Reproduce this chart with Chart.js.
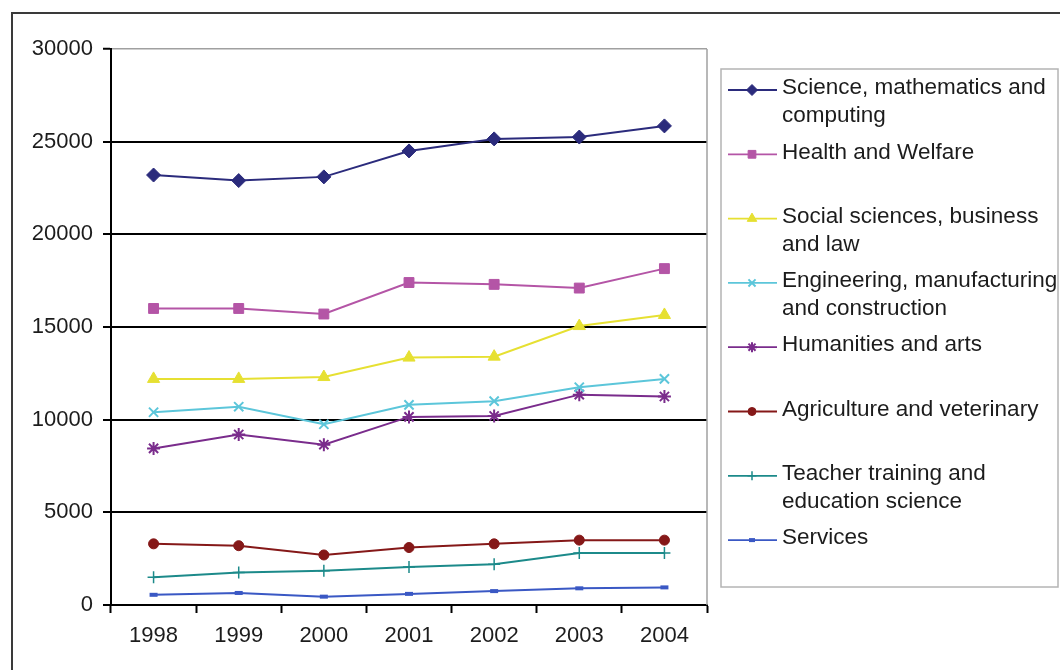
<!DOCTYPE html>
<html>
<head>
<meta charset="utf-8">
<script src="https://cdn.jsdelivr.net/npm/chart.js@4/dist/chart.umd.min.js"></script>
<style>
  html, body { margin: 0; padding: 0; background: #fff; }
  #wrap { width: 1060px; height: 670px; position: relative; }
</style>
</head>
<body>
<div id="wrap"><canvas id="c" width="1060" height="670"></canvas></div>
<script>
// Graduates by field of study, 1998-2004
const years = ['1998', '1999', '2000', '2001', '2002', '2003', '2004'];

const science     = [23200, 22900, 23100, 24500, 25150, 25250, 25850];
const health      = [16000, 16000, 15700, 17400, 17300, 17100, 18150];
const social      = [12200, 12200, 12300, 13350, 13400, 15050, 15650];
const engineering = [10400, 10700, 9750, 10800, 11000, 11750, 12200];
const humanities  = [8450, 9200, 8650, 10150, 10200, 11350, 11250];
const agriculture = [3300, 3200, 2700, 3100, 3300, 3500, 3500];
const teacher     = [1500, 1750, 1850, 2050, 2200, 2800, 2800];
const services    = [550, 650, 450, 600, 750, 900, 950];

const legendLines = [
  ['Science, mathematics and', 'computing'],
  ['Health and Welfare'],
  ['Social sciences, business', 'and law'],
  ['Engineering, manufacturing', 'and construction'],
  ['Humanities and arts'],
  ['Agriculture and veterinary'],
  ['Teacher training and', 'education science'],
  ['Services']
];

const yTicks = { min: 0, max: 30000, step: 5000 };

const FONT = { family: '"Liberation Sans", Arial, sans-serif', size: 22 };
const LEGEND_SIZE = 22.5;
const TEXT = '#1c1c1c';

function series(data, lines, color, style, radius, extra) {
  return Object.assign({
    label: lines.join(' '),
    legendLines: lines,
    data: data,
    borderColor: color,
    backgroundColor: color,
    pointBackgroundColor: color,
    pointBorderColor: color,
    pointStyle: style,
    pointRadius: radius,
    pointHoverRadius: radius,
    pointBorderWidth: 1,
    borderWidth: 2,
    tension: 0,
    fill: false
  }, extra || {});
}

const datasets = [
  series(science,     legendLines[0], '#2b2b7c', 'rectRot',  7),
  series(health,      legendLines[1], '#b455a6', 'rect',     7),
  series(social,      legendLines[2], '#e6e032', 'triangle', 7),
  series(engineering, legendLines[3], '#5cc6da', 'crossRot', 6.5, { pointBorderWidth: 2 }),
  series(humanities,  legendLines[4], '#7a2c8c', 'star',     6.5, { pointBorderWidth: 2 }),
  series(agriculture, legendLines[5], '#851818', 'circle',   5),
  series(teacher,     legendLines[6], '#1c8a8a', 'cross',    6, { pointBorderWidth: 1.5 }),
  series(services,    legendLines[7], '#3a58c4', 'line',     4, { pointBorderWidth: 4 })
];

// outer frame, plot border on the right, and the boxed legend
const decorations = {
  id: 'decorations',
  beforeDraw(chart) {
    const ctx = chart.ctx;
    ctx.save();
    ctx.fillStyle = '#fff';
    ctx.fillRect(0, 0, chart.width, chart.height);
    ctx.strokeStyle = '#3a3a3a';
    ctx.lineWidth = 2;
    ctx.beginPath();
    ctx.moveTo(12, chart.height);
    ctx.lineTo(12, 13);
    ctx.lineTo(chart.width, 13);
    ctx.stroke();
    ctx.restore();
  },
  afterDatasetsDraw(chart) {
    const ctx = chart.ctx;
    const a = chart.chartArea;
    ctx.save();
    ctx.strokeStyle = '#a0a0a0';
    ctx.lineWidth = 1.5;
    ctx.beginPath();
    ctx.moveTo(a.right, a.top);
    ctx.lineTo(a.right, a.bottom);
    ctx.stroke();

    // legend box
    const box = { left: 721, top: 69, right: 1058, bottom: 587 };
    ctx.strokeStyle = '#b4b4b4';
    ctx.lineWidth = 1.5;
    ctx.strokeRect(box.left, box.top, box.right - box.left, box.bottom - box.top);

    ctx.font = LEGEND_SIZE + 'px ' + FONT.family;
    ctx.fillStyle = TEXT;
    ctx.textBaseline = 'middle';
    ctx.textAlign = 'left';
    chart.data.datasets.forEach((ds, i) => {
      const y0 = 88 + i * 64.3;
      const my = y0 + 2;
      ctx.strokeStyle = ds.borderColor;
      ctx.lineWidth = 1.8;
      ctx.beginPath();
      ctx.moveTo(728, my);
      ctx.lineTo(777, my);
      ctx.stroke();
      ctx.fillStyle = ds.pointBackgroundColor;
      ctx.strokeStyle = ds.pointBorderColor;
      ctx.lineWidth = ds.pointBorderWidth;
      const r = ds.pointStyle === 'line' ? 3 : Math.max(4, ds.pointRadius - 1.5);
      Chart.helpers.drawPoint(ctx, { pointStyle: ds.pointStyle, radius: r, rotation: 0, borderWidth: ds.pointBorderWidth }, 752, my);
      ctx.fillStyle = TEXT;
      ds.legendLines.forEach((t, k) => ctx.fillText(t, 782, y0 + k * 27.7));
    });
    ctx.restore();
  }
};

new Chart(document.getElementById('c'), {
  type: 'line',
  data: { labels: years, datasets: datasets },
  plugins: [decorations],
  options: {
    responsive: false,
    animation: false,
    events: [],
    layout: { padding: { top: 49, right: 353, left: 0, bottom: 0 } },
    plugins: { legend: { display: false }, tooltip: { enabled: false } },
    scales: {
      x: {
        offset: true,
        grid: { offset: true, drawOnChartArea: false, tickLength: 8, tickColor: '#000', tickWidth: 2 },
        border: { color: '#000', width: 2 },
        ticks: { padding: 10, font: FONT, color: TEXT, maxRotation: 0 },
        afterFit(s) { s.height = 65; }
      },
      y: {
        min: yTicks.min,
        max: yTicks.max,
        ticks: { stepSize: yTicks.step, padding: 10, font: FONT, color: TEXT, callback: v => String(v) },
        grid: {
          color: c => (c.tick && c.tick.value === yTicks.max) ? '#a0a0a0' : '#000',
          lineWidth: c => (c.tick && c.tick.value === yTicks.max) ? 1.5 : 2,
          tickColor: '#000',
          tickLength: 8,
          tickWidth: 2
        },
        border: { color: '#000', width: 2 },
        afterFit(s) { s.width = 111; }
      }
    }
  }
});
</script>
</body>
</html>
